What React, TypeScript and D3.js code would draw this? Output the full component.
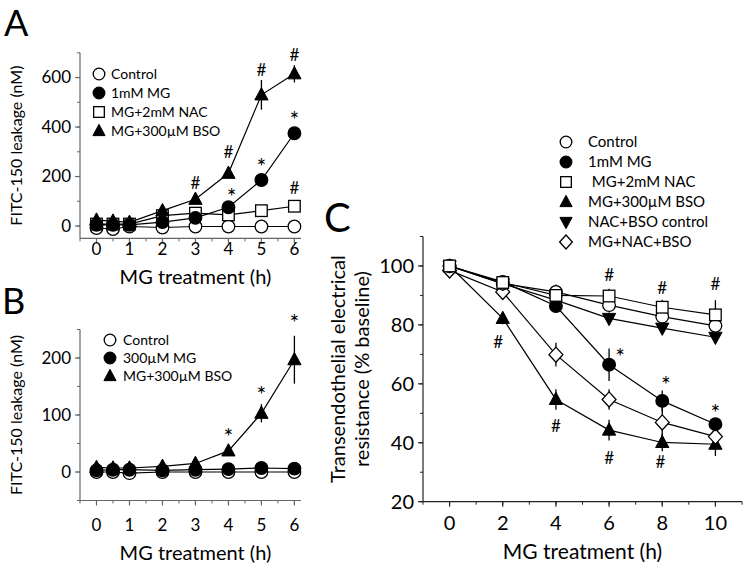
import React from "react";
import * as d3 from "d3";

// ---------- Data ----------
const timesAB = [0, 0.5, 1, 2, 3, 4, 5, 6];
const ticksAB = [0, 1, 2, 3, 4, 5, 6];

const aControl = [-8, -12, -2, -6, -2, -2, -2, -2];
const aControlErr = [3, 3, 3, 3, 3, 3, 3, 3];
const aMG = [5, 5, 5, 16, 33, 76, 186, 375];
const aMGErr = [3, 3, 3, 5, 6, 10, 20, 20];
const aNAC = [8, 8, 8, 42, 52, 45, 62, 80];
const aNACErr = [3, 3, 3, 5, 5, 8, 8, 12];
const aBSO = [24, 20, 15, 62, 108, 213, 530, 615];
const aBSOErr = [5, 5, 5, 8, 12, 15, 60, 35];
const aYTicks = [0, 200, 400, 600];

const bControl = [0, 0, -2, 0, 0, 0, 0, 0];
const bMG = [3, 4, 4, 3, 4, 5, 7, 6];
const bBSO = [8, 7, 7, 10, 15, 37, 103, 197];
const bBSOErr = [3, 3, 3, 4, 5, 8, 16, 42];
const bYTicks = [0, 100, 200];

const timesC = [0, 2, 4, 6, 8, 10];
const cControl = [100, 94, 91.2, 86.7, 82.8, 79.7];
const cControlErr = [1, 2, 2.5, 2, 2, 2];
const cMG = [100, 94.6, 86.4, 66.5, 54.2, 46.3];
const cMGErr = [1, 2, 2, 5.5, 3.5, 2];
const cNAC = [100, 94.4, 90, 89.8, 86, 83.4];
const cNACErr = [1, 2, 2, 2.5, 2.5, 5];
const cBSO = [100, 82.2, 54.7, 44.3, 40.1, 39.5];
const cBSOErr = [1, 2, 3.5, 3.5, 3, 4];
const cNACBSO = [100, 94, 88.4, 82.2, 78.9, 75.8];
const cNACBSOErr = [1, 2, 2, 2, 2, 2];
const cMGNACBSO = [98.5, 91.2, 69.9, 54.7, 46.9, 42.1];
const cMGNACBSOErr = [1, 2, 4, 3.5, 5, 2];
const cXTicks = [0, 2, 4, 6, 8, 10];
const cYTicks = [20, 40, 60, 80, 100];

const legendA = ["Control", "1mM MG", "MG+2mM NAC", "MG+300\u00b5M BSO"];
const legendB = ["Control", "300\u00b5M MG", "MG+300\u00b5M BSO"];
const legendC = ["Control", "1mM MG", " MG+2mM NAC", "MG+300\u00b5M BSO", "NAC+BSO control", "MG+NAC+BSO"];

// annotations: [x, y, symbol] in data coordinates
const annA: [number, number, string][] = [
  [3, 175, "#"], [4, 300, "#"], [5, 630, "#"], [6, 690, "#"],
  [4.1, 139, "*"], [5, 260, "*"], [6, 450, "*"], [6, 153, "#"],
];
const annB: [number, number, string][] = [[4, 71, "*"], [5, 144, "*"], [6, 270, "*"]];
const annC: [number, number, string][] = [
  [6, 96.9, "#"], [8, 92.4, "#"], [10, 94, "#"],
  [6.42, 71, "*"], [8.14, 61.5, "*"], [10, 51.9, "*"],
  [1.83, 74.4, "#"], [4, 45.7, "#"], [6, 35, "#"], [7.93, 33.4, "#"],
];

const FONT = "Lato, 'Open Sans', sans-serif";

type MarkerType = "circleOpen" | "circleFilled" | "square" | "triUp" | "triDown" | "diamond";

function Marker({ type, x, y, r = 6.3 }: { type: MarkerType; x: number; y: number; r?: number }) {
  const stroke = "#000";
  const sw = 1.3;
  if (type === "circleOpen" || type === "circleFilled") {
    return <circle cx={x} cy={y} r={r} fill={type === "circleOpen" ? "#fff" : "#000"} stroke={stroke} strokeWidth={sw} />;
  }
  if (type === "square") {
    const s = r * 0.92;
    return <rect x={x - s} y={y - s} width={2 * s} height={2 * s} fill="#fff" stroke={stroke} strokeWidth={sw} />;
  }
  if (type === "triUp") {
    const p = `M${x},${y - r * 1.15}L${x + r * 1.05},${y + r * 0.8}L${x - r * 1.05},${y + r * 0.8}Z`;
    return <path d={p} fill="#000" stroke={stroke} strokeWidth={1} />;
  }
  if (type === "triDown") {
    const p = `M${x},${y + r * 1.15}L${x + r * 1.05},${y - r * 0.8}L${x - r * 1.05},${y - r * 0.8}Z`;
    return <path d={p} fill="#000" stroke={stroke} strokeWidth={1} />;
  }
  const p = `M${x},${y - r * 1.2}L${x + r * 1.1},${y}L${x},${y + r * 1.2}L${x - r * 1.1},${y}Z`;
  return <path d={p} fill="#fff" stroke={stroke} strokeWidth={sw} />;
}

interface Series { values: number[]; err?: number[]; marker: MarkerType }

interface PanelProps {
  letter: string;
  letterX: number; letterY: number; letterSize: number;
  xDomain: [number, number]; xRange: [number, number];
  yDomain: [number, number]; yRange: [number, number];
  times: number[];
  xTicks: number[]; xMinorStep: number;
  yTicks: number[]; yMinorStep: number;
  series: Series[];
  ann: [number, number, string][];
  legend: string[]; legendMarkers: MarkerType[];
  legendX: number; legendY: number; legendDy: number; legendTextDx: number; legendFont: number;
  yLabel: string[]; yLabelX: number; yLabelDx: number; yLabelFont: number;
  xLabelY: number; tickFont: number; xLabelFont: number;
  axisColor: string;
  xTickLabelY: number;
}

function Panel(p: PanelProps) {
  const x = d3.scaleLinear().domain(p.xDomain).range(p.xRange);
  const y = d3.scaleLinear().domain(p.yDomain).range(p.yRange);
  const line = d3.line<[number, number]>().x((d) => x(d[0])).y((d) => y(d[1]));
  const xMinor = d3.range(Math.ceil(p.xDomain[0] / p.xMinorStep) * p.xMinorStep, p.xDomain[1] + 1e-9, p.xMinorStep);
  const yMinor = d3.range(Math.ceil(p.yDomain[0] / p.yMinorStep) * p.yMinorStep, p.yDomain[1] + 1e-9, p.yMinorStep);
  const x0 = p.xRange[0];
  const y0 = p.yRange[0];
  const yCenter = (p.yRange[0] + p.yRange[1]) / 2;
  const xCenter = (x(p.xTicks[0]) + x(p.xTicks[p.xTicks.length - 1])) / 2;
  return (
    <g>
      <text x={p.letterX} y={p.letterY} fontSize={p.letterSize} fontFamily={FONT}>{p.letter}</text>
      {/* axes */}
      <line x1={x0} x2={x0} y1={p.yRange[0]} y2={p.yRange[1]} stroke={p.axisColor} strokeWidth={1.2} />
      <line x1={p.xRange[0]} x2={p.xRange[1]} y1={y0} y2={y0} stroke={p.axisColor} strokeWidth={1.2} />
      {yMinor.map((v, i) => (
        <line key={"ym" + i} x1={x0 - 3} x2={x0} y1={y(v)} y2={y(v)} stroke={p.axisColor} strokeWidth={1} />
      ))}
      {p.yTicks.map((v) => (
        <g key={"yt" + v}>
          <line x1={x0 - 5} x2={x0} y1={y(v)} y2={y(v)} stroke={p.axisColor} strokeWidth={1.2} />
          <text x={x0 - 9} y={y(v)} dy="0.35em" textAnchor="end" fontSize={p.tickFont} fontFamily={FONT}>{v}</text>
        </g>
      ))}
      {xMinor.map((v, i) => (
        <line key={"xm" + i} x1={x(v)} x2={x(v)} y1={y0} y2={y0 + 3} stroke={p.axisColor} strokeWidth={1} />
      ))}
      {p.xTicks.map((v) => (
        <g key={"xt" + v}>
          <line x1={x(v)} x2={x(v)} y1={y0} y2={y0 + 5} stroke={p.axisColor} strokeWidth={1.2} />
          <text x={x(v)} y={p.xTickLabelY} dy="0.35em" textAnchor="middle" fontSize={p.tickFont} fontFamily={FONT}>{v}</text>
        </g>
      ))}
      <text x={xCenter} y={p.xLabelY} dy="0.35em" textAnchor="middle" fontSize={p.xLabelFont} fontFamily={FONT}>MG treatment (h)</text>
      {p.yLabel.map((t, i) => (
        <text key={"yl" + i} transform={`translate(${p.yLabelX + i * p.yLabelDx},${yCenter}) rotate(-90)`} dy="0.35em" textAnchor="middle" fontSize={p.yLabelFont} fontFamily={FONT}>{t}</text>
      ))}
      {/* error bars */}
      {p.series.map((s, si) =>
        s.err ? s.values.map((v, i) => (
          <line key={"e" + si + "_" + i} x1={x(p.times[i])} x2={x(p.times[i])} y1={y(v - s.err![i])} y2={y(v + s.err![i])} stroke="#000" strokeWidth={1.3} />
        )) : null
      )}
      {/* lines */}
      {p.series.map((s, si) => (
        <path key={"l" + si} d={line(s.values.map((v, i) => [p.times[i], v] as [number, number])) || ""} fill="none" stroke="#000" strokeWidth={1.2} />
      ))}
      {/* markers */}
      {p.series.map((s, si) =>
        s.values.map((v, i) => <Marker key={"m" + si + "_" + i} type={s.marker} x={x(p.times[i])} y={y(v)} />)
      )}
      {/* annotations */}
      {p.ann.map((a, i) =>
        a[2] === "*" ? (
          <text key={"a" + i} x={x(a[0])} y={y(a[1])} dy="0.58em" textAnchor="middle" fontSize={23} fontFamily={FONT}>{a[2]}</text>
        ) : (
          <text key={"a" + i} x={x(a[0])} y={y(a[1])} dy="0.36em" textAnchor="middle" fontSize={17} fontFamily={FONT}>{a[2]}</text>
        )
      )}
      {/* legend */}
      {p.legend.map((t, i) => (
        <g key={"lg" + i}>
          <Marker type={p.legendMarkers[i]} x={p.legendX} y={p.legendY + i * p.legendDy} r={5.8} />
          <text x={p.legendX + p.legendTextDx} y={p.legendY + i * p.legendDy} dy="0.35em" fontSize={p.legendFont} fontFamily={FONT} style={{ whiteSpace: "pre" }}>{t}</text>
        </g>
      ))}
    </g>
  );
}

export default function App() {
  return (
    <svg width={750} height={569} style={{ position: "absolute", left: 0, top: 0, background: "#fff" }}>
      <rect width={750} height={569} fill="#fff" />
      <Panel
        letter="A" letterX={4} letterY={36} letterSize={36}
        xDomain={[-0.5, 6.2]} xRange={[80, 301]}
        yDomain={[-50, 700]} yRange={[238.4, 52.8]}
        times={timesAB} xTicks={ticksAB} xMinorStep={0.5}
        yTicks={aYTicks} yMinorStep={100}
        series={[
          { values: aControl, err: aControlErr, marker: "circleOpen" },
          { values: aNAC, err: aNACErr, marker: "square" },
          { values: aMG, err: aMGErr, marker: "circleFilled" },
          { values: aBSO, err: aBSOErr, marker: "triUp" },
        ]}
        ann={annA}
        legend={legendA} legendMarkers={["circleOpen", "circleFilled", "square", "triUp"]}
        legendX={99} legendY={74} legendDy={19} legendTextDx={12} legendFont={14}
        yLabel={["FITC-150 leakage (nM)"]} yLabelX={16} yLabelDx={0} yLabelFont={16}
        xLabelY={277} tickFont={17} xLabelFont={20} axisColor="#666" xTickLabelY={249}
      />
      <Panel
        letter="B" letterX={2} letterY={314} letterSize={36}
        xDomain={[-0.5, 6.2]} xRange={[80, 301]}
        yDomain={[-50, 250]} yRange={[500.5, 329.5]}
        times={timesAB} xTicks={ticksAB} xMinorStep={0.5}
        yTicks={bYTicks} yMinorStep={50}
        series={[
          { values: bControl, marker: "circleOpen" },
          { values: bMG, marker: "circleFilled" },
          { values: bBSO, err: bBSOErr, marker: "triUp" },
        ]}
        ann={annB}
        legend={legendB} legendMarkers={["circleOpen", "circleFilled", "triUp"]}
        legendX={110} legendY={340} legendDy={18} legendTextDx={13} legendFont={14}
        yLabel={["FITC-150 leakage (nM)"]} yLabelX={16} yLabelDx={0} yLabelFont={16}
        xLabelY={553} tickFont={17} xLabelFont={20} axisColor="#666" xTickLabelY={525}
      />
      <Panel
        letter="C" letterX={324} letterY={232} letterSize={40}
        xDomain={[-1, 11]} xRange={[423, 742]}
        yDomain={[20, 110]} yRange={[501.7, 236.5]}
        times={timesC} xTicks={cXTicks} xMinorStep={1}
        yTicks={cYTicks} yMinorStep={10}
        series={[
          { values: cBSO, err: cBSOErr, marker: "triUp" },
          { values: cMGNACBSO, err: cMGNACBSOErr, marker: "diamond" },
          { values: cMG, err: cMGErr, marker: "circleFilled" },
          { values: cNACBSO, err: cNACBSOErr, marker: "triDown" },
          { values: cControl, err: cControlErr, marker: "circleOpen" },
          { values: cNAC, err: cNACErr, marker: "square" },
        ]}
        ann={annC}
        legend={legendC} legendMarkers={["circleOpen", "circleFilled", "square", "triUp", "triDown", "diamond"]}
        legendX={566} legendY={142} legendDy={20} legendTextDx={22} legendFont={15}
        yLabel={["Transendothelial electrical", "resistance (% baseline)"]} yLabelX={338} yLabelDx={24} yLabelFont={20}
        xLabelY={552} tickFont={20} xLabelFont={21} axisColor="#222" xTickLabelY={523}
      />
    </svg>
  );
}
